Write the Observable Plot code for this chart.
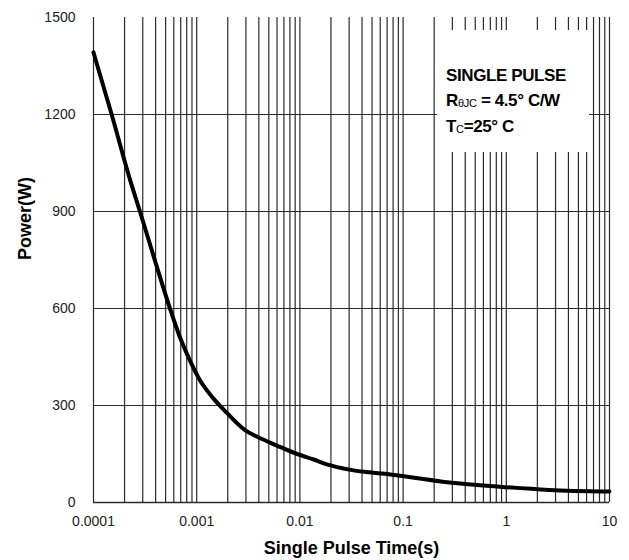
<!DOCTYPE html>
<html>
<head>
<meta charset="utf-8">
<script src="https://cdn.jsdelivr.net/npm/d3@7"></script>
<script src="https://cdn.jsdelivr.net/npm/@observablehq/plot@0.6"></script>
<style>
  html, body { margin: 0; padding: 0; background: #fff; }
  #wrap { position: relative; width: 629px; height: 560px; font-family: "Liberation Sans", Arial, sans-serif; }
  #note { position: absolute; left: 437px; top: 30px; width: 152px; height: 122px; background: #fff;
          font-weight: bold; font-size: 17px; color: #000; box-sizing: border-box; padding-left: 9px; padding-top: 34px; line-height: 24.5px; letter-spacing: -0.4px; white-space: nowrap; }
  #note sub { font-size: 11px; font-weight: normal; vertical-align: -1px; letter-spacing: -0.3px; }
</style>
</head>
<body>
<div id="wrap">
  <div id="chart"></div>
  <div id="note">
    <div>SINGLE PULSE</div>
    <div>R<sub>θJC</sub> = 4.5° C/W</div>
    <div>T<sub>C</sub>=25° C</div>
  </div>
</div>
<script>
// Data
const pulseTimes = [0.0001, 0.00015, 0.000225, 0.000282, 0.000394, 0.000551, 0.000688, 0.000861, 0.00108, 0.00145, 0.00195, 0.00294, 0.00382, 0.006, 0.0094, 0.0136, 0.0183, 0.031, 0.07, 0.28, 0.86, 2.6, 10];
const powerW     = [1392,   1200,    1000,     900,      748,      600,      511,      439,      377,     322,     278,     224,     204,     176,   150,    133,    118,    101,   88,   62,   49,   39,  34];

const xMajorTicks = [0.0001, 0.001, 0.01, 0.1, 1, 10];
const yTicks = [0, 300, 600, 900, 1200, 1500];
const yGrid = [300, 600, 900, 1200];
const mantissas = [1, 2, 3, 4, 5, 6, 7, 8, 9];

const xGrid = [];
for (const d of xMajorTicks.slice(0, -1)) for (const m of mantissas) xGrid.push(+(d * m).toPrecision(3));
xGrid.push(10);

const data = pulseTimes.map((t, i) => ({t, p: powerW[i]}));

const chart = Plot.plot({
  width: 629,
  height: 560,
  marginLeft: 93,
  marginRight: 20,
  marginTop: 17,
  marginBottom: 58,
  style: {fontFamily: "'Liberation Sans', Arial, sans-serif", fontSize: "14px", color: "#222", background: "#fff"},
  x: {type: "log", domain: [0.0001, 10]},
  y: {domain: [0, 1500]},
  marks: [
    Plot.ruleX(xGrid, {stroke: "#2a2a2a", strokeWidth: 1.2}),
    Plot.ruleY(yGrid, {stroke: "#2a2a2a", strokeWidth: 1.2}),
    Plot.ruleY([0], {stroke: "#2a2a2a", strokeWidth: 1.3}),
    Plot.axisX(xMajorTicks, {tickSize: 0, tickPadding: 14, tickFormat: d => String(d), fontSize: 14, label: null}),
    Plot.axisY(yTicks, {tickSize: 0, tickPadding: 18, tickFormat: d => String(d), fontSize: 14, label: null}),
    Plot.line(data, {x: "t", y: "p", stroke: "#000", strokeWidth: 4, curve: "monotone-x"}),
    Plot.text(["Single Pulse Time(s)"], {frameAnchor: "bottom", dy: 51, text: d => d, fontWeight: "bold", fontSize: 18, fill: "#000"}),
    Plot.text(["Power(W)"], {frameAnchor: "left", dx: -68, rotate: -90, text: d => d, fontWeight: "bold", fontSize: 18, fill: "#000"})
  ]
});
document.getElementById("chart").appendChild(chart);
</script>
</body>
</html>
